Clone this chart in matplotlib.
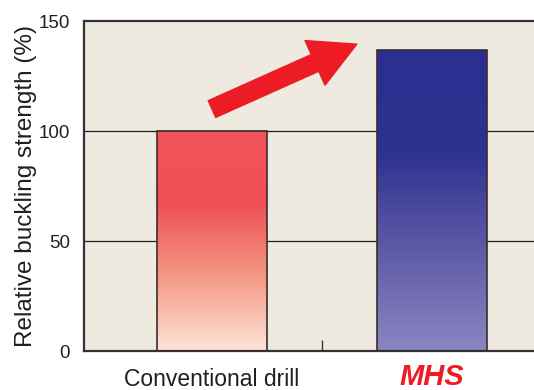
import matplotlib.pyplot as plt
import numpy as np
from matplotlib.colors import LinearSegmentedColormap

categories = ["Conventional drill", "MHS"]
values = [100, 137]
y_ticks = [0, 50, 100, 150]

plt.rcParams["font.family"] = ["Liberation Sans", "DejaVu Sans"]

fig = plt.figure(figsize=(5.34, 3.9), dpi=100)
ax = fig.add_axes([0.1573, 0.1, 0.891, 0.846])
ax.set_facecolor("#eeeae0")

x = np.arange(len(categories))
bars = ax.bar(x, values, width=0.5, color="none", edgecolor="#3a2c2c", linewidth=1.2, zorder=3)

gradients = [
    ["#fde4d8", "#f49a86", "#ef5056", "#f2545a"],
    ["#8b86c0", "#5e5aa6", "#2d3190", "#2b2f8f"],
]
for bar, cols in zip(bars, gradients):
    cmap = LinearSegmentedColormap.from_list("g", cols)
    x0, y0 = bar.get_x(), bar.get_y()
    w, h = bar.get_width(), bar.get_height()
    grad = np.linspace(0, 1, 256).reshape(-1, 1)
    im = ax.imshow(grad, cmap=cmap, origin="lower", aspect="auto",
                   extent=[x0, x0 + w, y0, y0 + h], zorder=2)
    im.set_clip_path(bar)

ax.set_xlim(-0.582, 1.582)
ax.set_ylim(0, 150)
ax.set_yticks(y_ticks)
ax.tick_params(axis="y", length=0, labelsize=13.5, pad=10, labelcolor="#231f20")
ax.set_xticks([0.5])
ax.set_xticklabels([""])
ax.tick_params(axis="x", direction="in", length=8, width=1, color="#333333")
for yv in [50, 100]:
    ax.axhline(yv, color="#231f20", linewidth=0.9, zorder=1)

for s in ["left", "top", "bottom"]:
    ax.spines[s].set_linewidth(1.6)
    ax.spines[s].set_color("#333333")
ax.spines["right"].set_visible(False)

ax.set_ylabel("Relative buckling strength (%)", fontsize=17.5, color="#231f20", labelpad=1)

ax.text(0, -15.8, categories[0], ha="center", va="baseline", fontsize=16.5,
        color="#231f20", clip_on=False)
ax.text(1, -15.3, categories[1], ha="center", va="baseline", fontsize=21,
        fontweight="bold", fontstyle="italic", color="#ed1c24", clip_on=False)

ax.annotate("", xy=(0.659, 139.5), xytext=(0.0, 110),
            arrowprops=dict(arrowstyle="simple,head_length=1.5,head_width=1.6,tail_width=0.6",
                            color="#ed1c24", mutation_scale=22, shrinkA=0, shrinkB=0),
            zorder=4)

fig.savefig("out.png", dpi=100)
